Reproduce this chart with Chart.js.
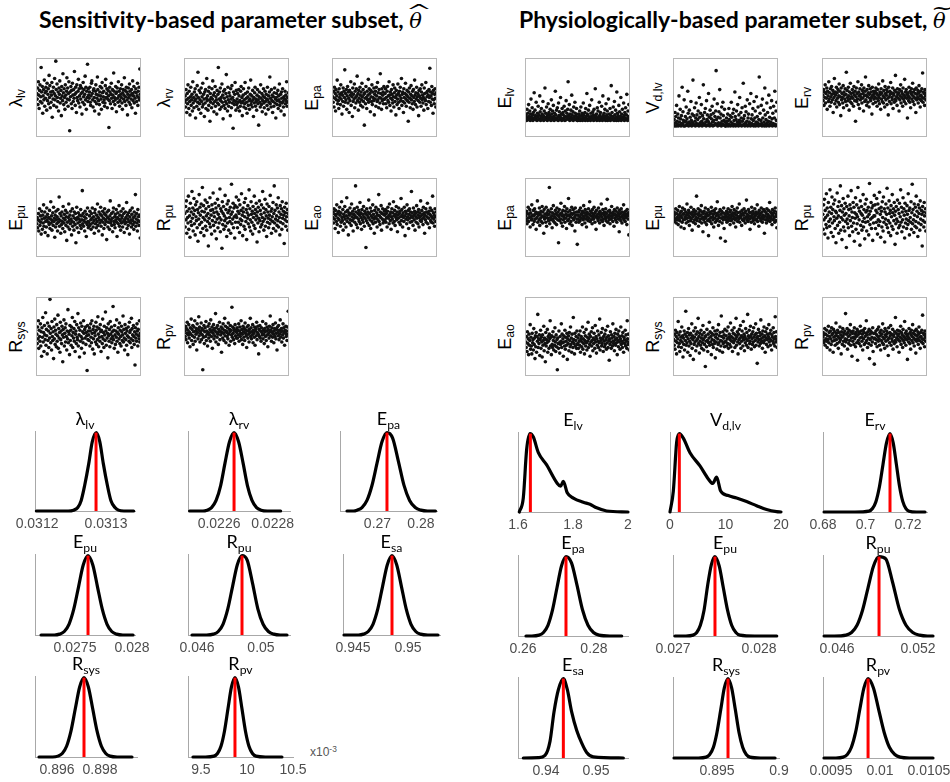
<!DOCTYPE html>
<html>
<head>
<meta charset="utf-8">
<script src="https://cdn.jsdelivr.net/npm/chart.js@4.4.1/dist/chart.umd.min.js"></script>
<style>
  body { margin: 0; background: #fff; width: 950px; height: 782px; position: relative; overflow: hidden; font-family: "Liberation Sans", Arial, sans-serif; }
  canvas { position: absolute; }
  .sec { position: absolute; font-family: Lato, "Open Sans", sans-serif; font-weight: bold; font-size: 23px; white-space: nowrap; color: #000; }
  .th { position: relative; display: inline-block; font-family: "DejaVu Serif", serif; font-style: italic; font-weight: normal; font-size: 21px; }
  .acc { position: absolute; left: 0; right: 0; text-align: center; font-style: normal; }
  .hat { top: -0.42em; transform: scale(1.5, 0.9); }
  .tilde { top: -0.62em; transform: scale(1.3, 1); }
  .ylab { position: absolute; font-size: 18px; white-space: nowrap; transform: translate(-50%, -50%) rotate(-90deg); }
  .dtitle { position: absolute; font-family: Lato, "Open Sans", sans-serif; font-size: 18px; white-space: nowrap; transform: translateX(-50%); line-height: 18px; }
  sub { font-size: 0.68em; vertical-align: -0.3em; line-height: 0; }
  .mult { position: absolute; color: #555; font-size: 12px; }
  .mult sup { font-size: 0.7em; vertical-align: 0.45em; line-height: 0; }
</style>
</head>
<body>
<div class="sec" style="left:39px;top:5px">Sensitivity-based parameter subset, <span class="th">θ<span class="acc hat">^</span></span></div>
<div class="sec" style="left:519px;top:5px">Physiologically-based parameter subset, <span class="th">θ<span class="acc tilde">~</span></span></div>
<div class="mult" style="left:310px;top:745px">x10<sup>-3</sup></div>
<script>
// MCMC chain samples, 0-100 within each trace panel (no y scale is shown)
const trLamLv = [55,48,62,41,70,53,36,59,66,45,51,88,57,43,64,30,52,60,47,72,39,56,49,63,58,34,68,46,54,61,42,78,50,65,37,57,44,53,69,25,58,48,63,40,55,74,47,52,96,60,38,67,50,45,57,33,62,54,71,43,49,59,27,64,52,46,80,56,41,61,50,35,66,53,44,58,75,48,62,39,55,70,47,8,57,51,64,42,59,36,68,53,45,60,49,83,54,40,63,56,31,66,50,46,58,73,43,61,52,38,65,48,55,62,29,57,44,69,51,60,41,54,77,47,63,35,58,50,92,45,61,53,
  49,57,63,44,40,52,68,71,55,47,38,59,61,50,33,45,58,66,54,42,49,76,60,53,46,29,41,57,64,52,48,35,62,69,56,44,51,58,47,39,43,65,73,50,55,61,37,48,59,52,12,46,63,57,42,54,68,49,36,60,53,45,81,58,50,41,47,64,55,32,57,62,49,44,70,52,58,39,46,61,54,50,66,43,35,56,60,48,53,75,45,59,51,40,63,57,47,28,54,62,50,44,67,58,41,53,48,60,37,55,71,46,52,64,43,57,49,30,61,56,45,52,68,40,58,50,63,47,86,54];
const trLamRv = [44,52,38,60,47,31,55,42,66,49,36,58,45,28,51,63,40,47,54,33,70,43,50,37,57,46,61,24,48,53,39,65,44,82,50,35,59,42,47,56,30,62,45,51,38,68,41,54,48,26,57,43,60,36,49,74,46,52,34,58,40,63,47,20,55,44,50,37,61,48,71,42,53,32,56,45,64,39,51,47,29,59,43,54,88,41,48,57,35,62,46,50,38,67,44,53,23,58,40,49,60,36,45,55,79,42,51,33,63,47,39,56,44,52,27,61,48,37,65,43,50,11,57,46,41,54,69,45,34,59,
  41,48,55,37,44,60,52,33,46,39,58,64,43,50,27,45,53,61,38,47,42,69,55,36,49,44,30,57,51,40,62,46,35,48,54,72,41,45,52,38,59,47,26,50,43,56,63,39,48,45,34,53,60,42,47,15,51,57,44,38,66,49,41,55,32,46,52,61,43,37,50,58,45,29,54,48,40,63,47,35,52,44,57,76,42,49,38,60,46,53,31,45,51,39,56,62,43,48,24,50,55,41,46,59,36,52,47,67,40,44,54,33,57,49,43,61,45,38,51,28,48,58,42,53,46,70,39,50,44,56];
const trEpaS = [51,44,58,38,63,49,55,33,60,47,52,72,42,57,46,36,61,50,54,41,66,48,56,29,53,45,62,39,58,50,85,44,55,47,60,35,52,64,43,57,49,31,59,46,53,70,40,56,51,26,62,45,54,48,67,37,58,50,43,61,52,77,46,55,34,59,49,44,63,53,40,57,47,68,51,38,60,45,54,15,56,49,42,64,50,36,58,47,53,73,44,61,48,55,32,59,51,45,66,41,57,50,46,62,28,54,48,58,39,63,52,45,69,47,56,37,60,50,43,80,55,49,35,61,46,53,57,42,64,48,
  48,55,61,42,50,37,58,64,46,52,44,70,53,40,57,49,33,60,54,47,43,66,51,38,56,62,45,50,28,59,53,41,48,67,55,44,36,58,52,63,46,49,74,40,54,57,45,31,61,50,43,55,68,48,39,53,59,46,51,20,57,44,62,49,37,54,65,47,52,42,58,35,60,50,45,72,53,41,56,48,63,38,51,55,46,27,59,52,44,61,49,39,57,66,47,53,43,50,34,62,55,48,46,69,41,56,51,58,36,53,45,60,50,87,44,57,52,40,64,48,55,30,59,47,42,54,61,49,38,56];
const trEpuS = [42,50,37,47,55,33,46,61,40,52,44,29,58,48,35,53,43,66,39,49,57,31,45,51,38,62,47,54,27,44,50,41,59,36,48,70,43,52,34,46,56,40,63,45,49,25,53,38,58,47,42,51,33,60,44,48,76,39,55,46,30,52,41,57,45,36,64,49,43,54,32,47,59,40,51,21,56,44,38,50,67,46,35,53,42,58,48,28,45,61,39,52,44,34,57,49,41,55,18,47,63,37,50,43,56,31,48,53,45,40,60,36,52,47,84,42,55,39,46,51,33,58,44,49,26,54,41,62,45,37,
  44,39,52,58,41,47,35,55,49,62,43,38,51,46,30,56,60,42,48,37,53,45,67,40,50,33,57,47,43,54,63,39,46,52,28,58,44,49,36,55,61,41,47,53,45,22,57,50,38,44,59,48,35,52,71,43,46,55,40,49,32,57,62,45,41,51,37,54,47,60,44,26,50,56,42,48,65,39,53,46,34,58,43,49,52,38,61,45,55,31,47,42,57,50,44,69,36,53,48,40,56,45,29,51,59,43,47,38,54,62,46,41,50,35,57,44,52,79,39,48,55,43,33,60,46,51,40,53,45,24];
const trRpuS = [55,38,64,47,71,30,58,50,43,77,35,61,52,25,68,45,57,40,83,49,62,33,54,74,42,59,28,66,51,46,70,37,60,20,56,48,79,41,63,53,31,67,44,58,88,36,50,65,27,57,47,72,39,61,52,34,69,45,55,14,64,49,42,75,38,59,53,29,66,46,60,81,40,56,51,33,68,44,62,23,57,48,73,37,54,65,43,50,86,32,61,47,58,11,70,41,55,64,35,52,46,78,39,60,49,26,67,43,56,71,34,59,50,45,63,30,54,92,42,57,48,68,37,62,51,24,65,44,53,76,
  50,63,37,58,44,72,55,31,66,48,41,59,80,46,53,27,62,57,39,69,51,35,74,45,60,22,56,49,65,42,53,85,38,61,47,33,70,54,44,58,29,64,50,40,77,55,36,60,47,68,52,19,57,43,63,49,32,71,46,59,38,54,66,41,50,83,45,62,34,56,48,73,39,60,52,26,67,44,57,49,37,64,53,42,78,47,58,30,61,51,45,69,36,55,90,43,59,48,33,66,52,40,62,46,75,38,57,50,28,65,44,54,61,35,70,49,42,58,53,17,63,47,56,39,68,51,45,60,34,55];
const trEaoS = [50,57,43,61,48,54,36,59,52,45,66,41,55,49,31,58,47,63,53,39,56,44,70,50,46,60,34,54,51,42,64,48,57,38,52,75,45,59,49,28,56,53,43,62,47,55,40,67,51,46,58,33,54,49,61,44,52,90,57,41,50,63,37,55,48,59,45,53,69,42,56,50,35,60,47,54,44,64,51,39,58,49,55,12,46,61,53,43,57,50,72,40,55,47,62,36,52,58,45,50,66,42,54,48,30,59,51,44,63,49,56,38,53,47,60,79,45,52,41,57,50,65,34,55,48,61,43,54,46,58,
  53,47,60,44,55,50,38,58,63,49,52,42,67,54,46,57,35,51,61,48,56,43,70,52,45,59,40,54,50,64,47,57,32,53,49,62,44,55,58,41,51,74,46,60,53,38,56,50,45,63,52,27,58,48,55,42,66,51,47,59,36,54,61,49,44,57,52,83,45,56,50,40,62,53,47,58,34,55,51,44,65,49,57,42,53,60,38,50,56,46,71,52,45,59,48,54,41,63,50,56,30,53,47,61,44,57,51,68,42,55,49,58,37,54,62,46,52,44,59,50,77,43,56,48,53,39,61,51,45,57];
const trRsysS = [53,41,62,47,70,35,58,50,44,66,38,56,25,61,49,74,43,55,31,64,52,46,80,39,59,51,28,67,45,57,36,63,48,97,54,42,60,33,69,50,45,56,22,62,47,72,40,58,53,37,65,44,51,77,35,60,48,55,30,68,46,57,41,63,52,18,59,49,71,38,54,61,43,66,50,33,57,47,84,42,56,53,27,64,45,58,39,62,51,74,36,55,48,60,44,69,31,53,57,41,65,49,46,79,38,61,52,24,58,44,67,50,35,63,47,56,42,70,54,29,59,48,62,40,55,51,7,64,46,57,
  52,45,61,38,57,66,49,42,70,54,34,59,47,63,28,55,51,43,68,58,40,62,46,75,53,37,60,49,44,65,56,31,58,50,41,72,47,55,36,63,52,45,81,57,39,61,48,54,23,66,51,44,59,37,69,53,47,62,42,56,50,88,46,58,35,64,52,40,57,49,71,44,55,30,61,53,47,67,41,58,50,38,63,56,45,52,76,43,59,48,33,65,54,46,60,39,57,51,27,62,49,44,68,55,42,58,47,73,36,60,52,45,64,50,40,56,14,61,48,53,44,66,57,38,59,51,47,70,43,54];
const trRpvS = [57,50,63,46,60,54,68,42,58,52,65,48,55,37,61,53,72,45,59,51,64,40,56,62,49,70,44,57,53,60,33,66,55,47,59,75,51,62,43,57,54,67,46,60,52,8,58,49,64,41,56,61,50,69,45,57,53,38,63,55,48,66,52,59,44,71,56,50,62,35,58,54,65,47,60,51,57,79,43,61,55,49,64,53,40,59,56,68,46,57,52,62,30,55,60,48,66,54,45,58,73,51,63,42,57,55,50,61,47,67,53,39,59,56,64,44,58,52,87,49,62,54,46,60,57,41,65,51,58,48,
  55,61,48,58,52,66,44,57,62,50,54,70,46,59,53,40,63,56,49,60,45,67,54,58,51,36,62,57,48,64,53,43,59,55,73,50,61,47,56,52,65,42,58,54,49,62,39,57,60,51,68,46,55,63,53,28,59,50,64,48,57,44,61,55,52,69,47,58,53,41,60,56,50,66,45,57,62,52,37,59,54,48,63,56,76,51,58,44,61,55,49,65,53,42,57,60,50,67,47,54,59,33,62,55,51,64,46,58,53,71,49,56,60,43,57,52,66,48,61,55,39,58,54,63,50,57,45,62,53,82];
const trElvP = [22,27,21,35,24,30,22,41,26,23,33,21,29,48,25,22,37,28,21,31,24,56,23,34,27,22,44,25,21,30,26,39,22,28,23,52,32,21,26,36,24,29,22,45,27,21,33,25,62,23,30,22,38,26,21,28,42,24,31,22,27,35,23,21,47,29,25,33,22,40,26,21,30,24,58,28,22,34,23,37,25,21,43,27,32,22,26,50,24,29,21,36,23,31,28,22,39,25,21,33,26,46,22,30,24,35,70,27,23,41,21,29,25,34,22,53,28,24,32,21,38,26,23,44,30,22,27,36,25,21,
  21,24,29,22,26,33,21,23,38,27,22,30,21,25,43,28,22,24,31,21,36,26,23,55,29,21,27,34,22,25,40,23,21,30,26,47,24,22,32,28,21,35,25,22,61,27,23,29,21,37,24,33,22,26,44,21,28,31,23,25,39,22,21,52,27,24,30,22,35,26,21,42,23,28,33,21,25,48,22,29,24,36,21,27,65,23,31,22,26,38,24,21,45,28,22,34,25,21,57,30,23,27,21,40,24,32,22,26,50,21,29,23,35,25,22,43,27,21,31,24,37,22,28,54,23,21,33,26,41,22];
const trVdlvP = [15,22,14,31,18,26,14,40,20,16,29,14,24,52,19,15,35,23,14,27,17,63,16,32,21,14,47,19,14,26,20,38,15,23,17,58,30,14,19,34,17,25,15,45,21,14,29,18,72,16,27,15,37,20,14,24,43,17,28,15,22,33,16,14,50,25,18,30,15,41,20,14,27,17,66,23,15,31,16,36,19,14,46,22,28,15,20,55,18,25,14,34,16,28,23,15,39,19,14,30,21,48,15,26,17,33,84,22,16,42,14,25,18,32,15,60,24,17,29,14,38,20,16,44,27,15,21,35,19,14,
  14,18,24,15,20,29,14,16,36,22,15,27,14,19,44,25,15,17,30,14,35,21,16,57,26,14,22,33,15,19,41,17,14,28,21,50,18,15,31,24,14,37,20,15,68,23,16,27,14,39,18,32,15,20,47,14,24,29,16,19,42,15,14,55,23,17,28,15,36,21,14,45,16,24,33,14,19,51,15,26,18,38,14,22,76,16,30,15,21,40,17,14,48,24,15,34,19,14,62,28,16,22,14,43,18,31,15,20,53,14,25,16,37,19,15,46,23,14,30,17,39,15,24,58,16,14,33,21,44,15];
const trErvP = [53,46,60,40,57,50,66,43,55,49,62,35,58,52,45,70,48,56,39,61,51,44,64,54,47,59,31,55,50,74,42,57,53,46,63,38,56,49,60,44,52,67,41,58,51,27,62,47,55,50,43,65,37,57,53,48,61,45,54,82,40,59,50,46,63,52,34,57,48,68,44,55,51,42,60,49,56,39,64,53,46,58,20,51,62,45,55,48,70,41,57,52,36,61,47,54,50,66,43,59,49,55,33,62,52,45,58,76,47,53,40,60,51,44,56,65,38,54,49,61,46,57,50,29,63,53,42,58,48,55,
  51,58,44,62,49,55,39,60,53,46,67,50,42,57,54,35,61,48,56,45,71,52,43,59,50,38,64,55,47,53,60,41,57,49,28,63,51,45,58,54,69,42,56,50,47,62,36,55,53,44,59,48,78,46,57,51,40,61,54,49,56,33,60,47,52,66,43,58,50,55,39,62,48,53,45,73,51,57,42,60,49,54,24,56,52,46,63,50,44,58,37,55,61,48,53,68,45,57,51,41,60,49,55,31,62,47,54,50,59,43,56,65,48,52,38,58,53,46,61,50,81,44,57,49,55,40,60,52,47,56];
const trEpaP = [52,46,58,42,55,49,63,45,54,50,60,38,56,51,47,66,48,53,41,59,52,45,61,54,48,57,35,55,50,71,44,56,53,47,62,40,55,49,58,45,52,64,43,57,51,30,60,48,54,50,44,63,39,56,53,49,59,46,54,88,42,57,50,47,61,52,37,56,48,65,45,54,51,43,59,49,55,41,62,53,47,57,18,51,60,46,54,48,68,43,56,52,39,59,47,53,50,64,44,58,49,54,36,61,52,46,57,74,48,53,42,59,51,45,55,63,40,54,49,60,47,56,50,33,62,53,44,57,48,16,
  53,48,57,44,59,51,46,62,54,49,55,41,58,52,47,65,50,56,43,60,53,48,38,57,51,55,46,61,49,54,70,45,58,52,47,56,42,60,50,53,48,63,55,44,57,51,35,59,52,49,54,46,62,50,56,43,58,53,47,67,51,55,45,60,48,54,40,57,52,49,61,46,55,51,73,44,58,50,53,47,59,42,56,52,48,64,50,55,45,57,53,39,60,49,54,47,58,51,44,62,52,56,48,53,32,59,50,55,46,61,51,43,57,53,49,66,47,55,52,45,58,50,54,41,60,52,48,56,28,53];
const trEpuP = [51,57,45,54,48,61,43,55,50,47,59,41,53,49,64,46,56,52,38,58,50,44,62,54,47,55,36,60,51,48,57,43,53,67,49,55,45,59,52,40,56,50,46,63,48,54,34,57,51,44,60,53,47,55,42,58,50,77,46,54,49,61,39,56,52,45,59,48,53,65,43,57,50,32,55,47,58,51,44,62,49,54,41,56,52,46,60,27,53,48,57,45,55,50,63,42,58,51,47,54,38,59,49,56,44,61,52,46,55,70,48,53,40,57,50,45,60,24,54,49,58,43,56,51,47,62,36,55,50,20,
  52,47,58,44,55,50,61,46,53,49,57,41,59,51,46,54,64,48,56,52,43,60,50,55,47,38,58,53,49,62,45,56,51,48,67,44,57,52,50,54,40,59,47,55,53,46,61,49,56,43,58,51,72,47,54,50,45,60,52,57,48,35,56,51,44,63,53,49,58,46,55,50,42,61,52,47,57,54,48,66,45,56,51,39,59,53,49,55,46,62,50,57,44,53,48,60,51,30,58,52,47,56,43,61,50,54,46,59,52,49,69,45,57,51,48,55,41,60,53,47,56,50,58,44,62,51,46,54,37,57];
const trRpuP = [54,35,66,47,73,29,59,50,41,80,37,62,53,24,69,45,57,39,85,48,63,31,55,76,43,60,26,67,51,46,72,36,58,18,56,49,81,40,64,52,30,70,44,59,90,34,50,65,22,57,47,74,38,61,53,33,68,45,55,12,64,48,42,77,37,60,52,27,66,46,61,84,39,57,50,32,69,43,63,20,56,49,75,35,54,66,42,51,88,30,62,47,58,15,71,40,55,64,34,53,45,79,38,60,49,23,67,44,57,73,33,59,51,45,63,28,54,93,41,58,48,69,36,62,50,21,65,43,52,78,
  52,66,36,59,44,74,56,29,67,47,40,61,82,45,54,25,63,58,38,70,50,33,76,44,61,19,57,48,67,41,54,87,37,62,46,31,71,55,43,59,27,65,51,39,79,56,35,61,46,69,53,16,58,42,64,48,30,72,45,60,37,55,68,40,51,85,44,63,32,57,47,75,38,61,53,24,68,43,58,48,36,65,54,41,80,46,59,28,62,50,44,70,35,56,92,42,60,47,31,67,53,39,63,45,77,37,58,51,26,66,43,55,62,34,71,48,41,59,54,14,64,46,57,38,69,52,44,61,33,56];
const trEaoP = [43,36,50,31,56,41,47,27,53,39,45,65,34,49,38,28,54,42,46,33,60,40,48,22,51,37,55,30,50,44,78,36,47,41,52,26,46,58,35,49,43,24,52,39,45,63,32,48,41,18,55,38,46,42,59,30,50,44,35,53,47,70,38,49,27,51,40,36,56,45,33,49,39,61,43,31,52,37,46,8,48,41,35,57,42,29,50,40,44,66,36,53,42,47,25,51,43,38,58,34,49,44,39,54,21,47,41,51,32,55,45,37,62,40,48,30,53,43,36,74,46,41,28,54,38,45,50,35,57,40,
  41,48,35,52,44,39,57,30,46,50,37,43,62,34,47,41,55,28,45,51,38,59,42,33,49,44,68,36,47,53,40,25,50,43,56,38,45,61,32,48,41,54,46,35,64,43,50,29,47,39,57,44,36,52,42,72,33,48,45,55,38,41,60,47,31,50,44,37,53,40,58,46,34,49,42,63,36,51,45,20,47,40,56,43,35,52,48,38,66,44,41,50,32,54,46,39,59,42,48,27,53,45,37,57,43,50,34,47,62,40,44,51,36,55,42,30,49,46,41,58,38,52,44,35,70,47,40,53,43,33];
const trRsysP = [46,39,53,34,58,44,50,28,55,42,47,69,37,52,41,31,56,45,49,36,62,43,51,24,48,40,57,33,53,45,82,39,50,42,55,30,47,60,38,52,44,26,54,41,48,66,35,51,46,21,57,40,49,43,61,32,53,45,38,56,47,73,41,50,29,54,44,39,58,48,35,52,42,64,46,33,55,40,49,12,51,44,37,59,45,31,53,42,48,68,39,56,43,50,27,54,46,40,61,36,52,45,41,57,23,49,43,53,34,58,47,40,65,42,51,32,55,45,38,76,50,44,30,56,41,48,52,37,59,43,
  44,51,38,57,47,41,62,35,49,53,40,46,67,37,50,44,58,31,48,54,42,61,45,36,52,47,73,39,50,56,43,28,53,46,59,41,48,64,35,51,44,57,49,38,69,46,53,32,50,42,60,47,39,55,45,78,36,51,48,58,41,44,63,50,34,53,47,40,56,43,61,49,37,52,45,66,39,54,48,16,50,43,59,46,38,55,51,41,71,47,44,53,35,57,49,42,62,45,51,30,56,48,40,60,46,53,37,50,65,43,47,54,39,58,45,33,52,49,44,61,41,55,47,38,75,50,43,56,46,36];
const trRpvP = [49,55,42,52,45,60,39,53,47,44,58,36,51,46,63,42,55,50,33,57,47,40,61,52,44,54,30,59,49,45,56,39,51,67,46,54,41,58,50,35,55,48,43,62,46,52,28,56,49,40,60,51,44,54,38,57,47,79,43,53,46,60,34,55,50,41,58,45,52,65,39,56,48,25,54,44,57,49,40,61,47,53,37,55,50,42,59,20,52,45,56,41,54,48,63,38,57,49,44,53,33,58,47,55,40,60,50,42,54,70,45,52,36,56,48,41,59,22,53,46,57,39,55,49,43,61,31,54,47,15,
  48,54,41,57,46,52,37,59,50,44,62,47,39,55,51,33,58,45,53,42,66,49,40,56,47,35,60,52,44,50,57,38,54,46,26,61,48,42,55,51,64,39,53,47,44,59,34,52,50,41,56,45,74,43,54,48,37,58,51,46,53,30,57,44,49,63,40,55,47,52,36,59,45,50,42,69,48,54,39,57,46,51,21,53,49,43,60,47,41,55,34,52,58,45,50,65,42,54,48,38,57,46,52,29,59,44,51,47,56,40,53,62,45,49,35,55,50,43,58,47,77,41,54,46,52,37,57,49,44,53];

// posterior densities (x in parameter units, y normalised to the peak)
const bellY = [0,0,0.011,0.044,0.135,0.325,0.607,0.882,1,0.882,0.607,0.325,0.135,0.044,0.011,0,0];
const xLamLvS = [0.031199,0.031245,0.031253,0.031259,0.031264,0.031269,0.031275,0.03128,0.031286,0.031291,0.031296,0.031302,0.031307,0.031313,0.031318,0.031326,0.03134];
const xLamRvS = [0.02249,0.02254,0.022555,0.022572,0.022589,0.022606,0.022622,0.022639,0.022656,0.022673,0.02269,0.022706,0.022723,0.02274,0.022757,0.02278,0.02283];
const xEpaS = [0.26299,0.2645,0.26528,0.26643,0.26758,0.26873,0.26988,0.27103,0.27218,0.27348,0.27478,0.27608,0.27738,0.27868,0.27998,0.2815,0.28333];
const yEpaS = [0,0,0.011,0.044,0.135,0.325,0.607,0.882,1,0.93,0.64,0.33,0.135,0.044,0.011,0,0];
const xEpuS = [0.027202,0.02732,0.027364,0.027406,0.027447,0.027489,0.027531,0.027572,0.027614,0.027656,0.027697,0.027739,0.027781,0.027822,0.027864,0.02792,0.028009];
const xRpuS = [0.045688,0.0466,0.047031,0.047328,0.047625,0.047922,0.048219,0.048516,0.048813,0.049143,0.049473,0.049803,0.050133,0.050463,0.050793,0.0512,0.051625];
const yRpuS = [0,0,0.011,0.044,0.135,0.325,0.607,0.882,1,0.94,0.65,0.33,0.135,0.044,0.011,0,0];
const xEsaS = [0.944182,0.9455,0.945953,0.946385,0.946817,0.947249,0.947681,0.948113,0.948545,0.948977,0.949409,0.949841,0.950273,0.950705,0.951137,0.9518,0.952727];
const xRsysS = [0.895163,0.8958,0.896041,0.896244,0.896446,0.896649,0.896851,0.897054,0.897256,0.897459,0.897661,0.897864,0.898066,0.898269,0.898471,0.8988,0.899488];
const xRpvS = [9.414,9.55,9.642,9.68,9.718,9.756,9.794,9.832,9.87,9.908,9.946,9.984,10.022,10.06,10.098,10.2,10.38];
const xElvP = [1.6047,1.6193,1.6315,1.6436,1.6558,1.674,1.7042,1.743,1.755,1.7648,1.779,1.8012,1.8376,1.8618,1.8861,1.9224,2.0];
const yElvP = [0,0.18,0.8,1,0.956,0.756,0.6,0.364,0.329,0.391,0.244,0.178,0.124,0.098,0.053,0.013,0];
const xVdlvP = [0,0.6,1.2,1.68,2.4,3.6,5.4,6.9,7.7,8.4,9.13,10.5,12,13.8,15.6,17.4,19.2,20];
const yVdlvP = [0,0.267,0.889,1,0.942,0.756,0.587,0.422,0.364,0.444,0.267,0.209,0.178,0.133,0.08,0.031,0.004,0];
const xErvP = [0.6805,0.695,0.70163,0.70328,0.70493,0.70658,0.70823,0.70988,0.71153,0.71303,0.71453,0.71603,0.71753,0.71903,0.72053,0.724,0.728];
const xEpaP = [0.26084,0.2625,0.26449,0.26576,0.26703,0.2683,0.26957,0.27084,0.27211,0.27366,0.27521,0.27676,0.27831,0.27986,0.28141,0.2845,0.2878];
const yEpaP = [0,0,0.011,0.044,0.135,0.325,0.607,0.882,1,0.92,0.64,0.33,0.135,0.044,0.011,0,0];
const xEpuP = [0.027023,0.02715,0.027233,0.027276,0.027318,0.027361,0.027403,0.027446,0.027488,0.027537,0.027585,0.027634,0.027682,0.027731,0.027779,0.02795,0.028206];
const yEpuP = [0,0,0.011,0.044,0.135,0.325,0.64,0.9,1,0.882,0.607,0.325,0.135,0.044,0.011,0,0];
const xRpuP = [0.04504,0.0458,0.046666,0.047074,0.047481,0.047889,0.048296,0.048704,0.049111,0.049611,0.050111,0.050611,0.051111,0.051611,0.052111,0.0527,0.05311];
const yRpuP = [0,0,0.011,0.044,0.135,0.325,0.607,0.882,1,0.97,0.68,0.34,0.135,0.044,0.011,0,0];
const xEsaP = [0.93547,0.9385,0.9398,0.9408,0.9416,0.94247,0.94347,0.94427,0.94513,0.94613,0.94713,0.94813,0.94947,0.95547];
const yEsaP = [0,0.005,0.033,0.21,0.58,0.86,1,0.86,0.58,0.35,0.19,0.07,0.014,0];
const xRsysP = [0.89153,0.8935,0.89412,0.89441,0.89471,0.895,0.8953,0.89559,0.895887,0.89618,0.89648,0.89677,0.89707,0.89736,0.89766,0.8985,0.89968];
const xRpvP = [0.009428,0.00955,0.009623,0.009666,0.009708,0.009751,0.009793,0.009836,0.009878,0.009933,0.009987,0.010042,0.010096,0.010151,0.010205,0.0103,0.010541];

// red lines: posterior modes
const modesS = [0.0312855, 0.022656, 0.27218, 0.027614, 0.048813, 0.948545, 0.897256, 9.87];
const modesP = [1.645, 1.68, 0.71153, 0.27211, 0.027488, 0.049111, 0.94347, 0.895887, 0.009878];

// x tick values and axis limits of the density panels
const ticksS = [[0.0312,0.0313],[0.0226,0.0228],[0.27,0.28],[0.0275,0.028],[0.046,0.05],[0.945,0.95],[0.896,0.898],[9.5,10,10.5]];
const ticksP = [[1.6,1.8,2],[0,10,20],[0.68,0.7,0.72],[0.26,0.28],[0.027,0.028],[0.046,0.052],[0.94,0.95],[0.895,0.9],[0.0095,0.01,0.0105]];
const limitsS = [[0.031197,0.031342],[0.022484,0.022865],[0.26138,0.28368],[0.027149,0.028026],[0.045438,0.051813],[0.944091,0.952909],[0.894977,0.899721],[9.36,10.5]];
const limitsP = [[1.6,2],[0,20],[0.68,0.72894],[0.25859,0.28958],[0.027,0.028209],[0.04496,0.05311],[0.9344,0.9564],[0.89145,0.9],[0.009418,0.010541]];

// names
const traceNamesS = [['λ','lv'],['λ','rv'],['E','pa'],['E','pu'],['R','pu'],['E','ao'],['R','sys'],['R','pv']];
const traceNamesP = [['E','lv'],['V','d,lv'],['E','rv'],['E','pa'],['E','pu'],['R','pu'],['E','ao'],['R','sys'],['R','pv']];
const densNamesS = [['λ','lv'],['λ','rv'],['E','pa'],['E','pu'],['R','pu'],['E','sa'],['R','sys'],['R','pv']];
const densNamesP = [['E','lv'],['V','d,lv'],['E','rv'],['E','pa'],['E','pu'],['R','pu'],['E','sa'],['R','sys'],['R','pv']];

const tracesS = [trLamLv, trLamRv, trEpaS, trEpuS, trRpuS, trEaoS, trRsysS, trRpvS];
const tracesP = [trElvP, trVdlvP, trErvP, trEpaP, trEpuP, trRpuP, trEaoP, trRsysP, trRpvP];
const curvesS = [[xLamLvS,bellY],[xLamRvS,bellY],[xEpaS,yEpaS],[xEpuS,bellY],[xRpuS,yRpuS],[xEsaS,bellY],[xRsysS,bellY],[xRpvS,bellY]];
const curvesP = [[xElvP,yElvP],[xVdlvP,yVdlvP],[xErvP,bellY],[xEpaP,yEpaP],[xEpuP,yEpuP],[xRpuP,yRpuP],[xEsaP,yEsaP],[xRsysP,bellY],[xRpvP,bellY]];

// ---- layout ----
const traceColsS = [32, 180, 328], traceColsP = [521, 669, 818];
const traceRows = [54, 174, 293];
const traceW = 113, traceH = 87;
// density axes boxes [left, top, right, bottom]
const densBoxS = [[35,431,135,511],[188,431,290,511],[340,431,437,511],[35,554,135,635],[188,554,290,635],[343,554,440,635],[35,676,137,757],[188,676,293,757]];
const densBoxP = [[518,432,628,512],[670,432,781,512],[823,432,927,512],[518,555,628,636],[673,555,777,636],[823,555,933,636],[518,677,628,758],[673,677,779,758],[823,677,933,758]];

Chart.defaults.animation = false;
Chart.defaults.responsive = false;
Chart.defaults.events = [];
Chart.defaults.font.family = '"Liberation Sans", Arial, sans-serif';
Chart.defaults.plugins.legend.display = false;
Chart.defaults.plugins.tooltip.enabled = false;

const framePlugin = {
  id: 'frame',
  afterDraw(chart) {
    const a = chart.chartArea, ctx = chart.ctx;
    ctx.save();
    ctx.strokeStyle = '#b8b8b8';
    ctx.lineWidth = 1;
    ctx.strokeRect(a.left + 0.5, a.top + 0.5, a.right - a.left - 1, a.bottom - a.top - 1);
    ctx.restore();
  }
};

function makeCanvas(left, top, w, h) {
  const cv = document.createElement('canvas');
  cv.width = w; cv.height = h;
  cv.style.left = left + 'px'; cv.style.top = top + 'px';
  document.body.appendChild(cv);
  return cv;
}

function nameHtml(n) { return n[0] + '<sub>' + n[1] + '</sub>'; }

function addDiv(cls, html, left, top) {
  const d = document.createElement('div');
  d.className = cls;
  d.innerHTML = html;
  d.style.left = left + 'px';
  d.style.top = top + 'px';
  document.body.appendChild(d);
}

function drawTrace(values, name, x, y) {
  const cv = makeCanvas(x, y, traceW, traceH);
  new Chart(cv, {
    type: 'scatter',
    data: { datasets: [{
      data: values.map((v, i) => ({ x: i, y: v })),
      pointRadius: 1.8, pointBorderWidth: 0, pointBackgroundColor: '#111'
    }] },
    options: {
      layout: { padding: 0 },
      scales: {
        x: { display: false, min: -2, max: values.length + 1 },
        y: { display: false, min: 0, max: 100 }
      }
    },
    plugins: [framePlugin]
  });
  addDiv('ylab', nameHtml(name), x - 16, y + traceH / 2);
}

function drawDensity(curve, mode, ticks, lim, name, box) {
  const padX = 30, padTop = 4, axisH = 24;
  const w = box[2] - box[0], h = box[3] - box[1];
  const cv = makeCanvas(box[0] - padX, box[1] - padTop, w + 2 * padX, h + padTop + axisH);
  new Chart(cv, {
    type: 'scatter',
    data: { datasets: [
      { data: [{ x: mode, y: 0 }, { x: mode, y: 1 }], showLine: true, borderColor: '#ff0000', borderWidth: 3, pointRadius: 0, clip: false },
      { data: curve[0].map((v, i) => ({ x: v, y: curve[1][i] })), showLine: true, borderColor: '#000', borderWidth: 3.2,
        pointRadius: 0, tension: 0.4, cubicInterpolationMode: 'monotone', borderJoinStyle: 'round', borderCapStyle: 'round', clip: false }
    ] },
    options: {
      layout: { padding: { left: padX, right: padX, top: padTop, bottom: 0 } },
      scales: {
        x: {
          type: 'linear', min: lim[0], max: lim[1], bounds: 'data',
          grid: { display: false, drawTicks: false },
          border: { color: '#a8a8a8', width: 1 },
          ticks: { autoSkip: false, maxRotation: 0, padding: 5, color: '#4d4d4d', font: { size: 14 }, callback: v => String(v) },
          afterBuildTicks: s => { s.ticks = ticks.map(v => ({ value: v })); },
          afterFit: s => { s.height = axisH; }
        },
        y: {
          min: 0, max: 1.02,
          grid: { display: false, drawTicks: false },
          ticks: { display: false },
          border: { color: '#a8a8a8', width: 1 }
        }
      }
    }
  });
  addDiv('dtitle', nameHtml(name), (box[0] + box[2]) / 2, box[1] - 22);
}

tracesS.forEach((t, i) => drawTrace(t, traceNamesS[i], traceColsS[i % 3], traceRows[Math.floor(i / 3)]));
tracesP.forEach((t, i) => drawTrace(t, traceNamesP[i], traceColsP[i % 3], traceRows[Math.floor(i / 3)]));
curvesS.forEach((c, i) => drawDensity(c, modesS[i], ticksS[i], limitsS[i], densNamesS[i], densBoxS[i]));
curvesP.forEach((c, i) => drawDensity(c, modesP[i], ticksP[i], limitsP[i], densNamesP[i], densBoxP[i]));
</script>
</body>
</html>
